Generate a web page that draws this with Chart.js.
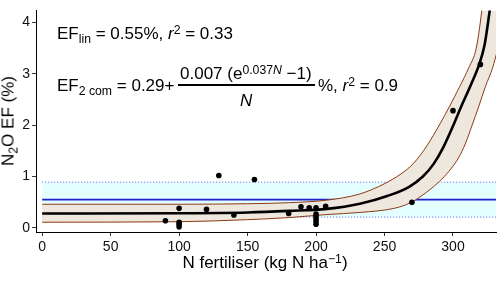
<!DOCTYPE html>
<html><head><meta charset="utf-8">
<script src="https://cdn.jsdelivr.net/npm/chart.js@4/dist/chart.umd.min.js"></script>
<style>
html,body{margin:0;padding:0;background:#fff;}
#wrap{position:relative;width:500px;height:282px;font-family:"Liberation Sans",Arial,sans-serif;color:#000;overflow:hidden;}
canvas{position:absolute;left:0;top:0;}
.t{position:absolute;white-space:nowrap;line-height:1;font-size:17px;}
.sb{position:relative;top:0.3em;font-size:0.72em;}
.sp{position:relative;top:-0.45em;font-size:0.72em;}
</style></head><body>
<div id="wrap">
<canvas id="c" width="500" height="282"></canvas>
<div class="t" style="left:57px;top:25px">EF<span class="sb">lin</span> = 0.55%, <i>r</i><span class="sp">2</span> = 0.33</div>
<div class="t" style="left:57px;top:77px">EF<span class="sb">2 com</span> = 0.29+</div>
<div class="t" style="left:180px;top:65px">0.007 (e<span class="sp">0.037<i>N</i></span> −1)</div>
<div style="position:absolute;left:178px;top:84px;width:137px;height:1.5px;background:#000"></div>
<div class="t" style="left:240px;top:92px"><i>N</i></div>
<div class="t" style="left:318px;top:77px">%, <i>r</i><span class="sp">2</span> = 0.9</div>
<div class="t" style="left:265px;top:254px;transform:translateX(-50%)">N fertiliser (kg N ha<span class="sp">−1</span>)</div>
<div class="t" style="left:8px;top:121px;transform:translate(-50%,-50%) rotate(-90deg)">N<span class="sb">2</span>O EF (%)</div>
</div>
<script>
const xTicks = [0, 50, 100, 150, 200, 250, 300];
const yTicks = [0, 1, 2, 3, 4];

const obsN  = [90, 100, 100, 100, 100, 120, 129, 140, 155, 180, 189, 195, 200, 200, 200, 200, 200, 200, 207, 270, 300, 320];
const obsEF = [0.14, 0.38, 0.11, 0.07, 0.02, 0.36, 1.02, 0.25, 0.94, 0.28, 0.41, 0.39, 0.39, 0.27, 0.22, 0.17, 0.12, 0.07, 0.42, 0.50, 2.28, 3.18];

const fitN  = [0, 100, 150, 180, 208, 232, 252, 268, 278, 286, 293, 300, 306, 313, 319, 323, 327, 331];
const fitEF = [0.28, 0.285, 0.30, 0.33, 0.37, 0.47, 0.62, 0.80, 1.00, 1.25, 1.57, 1.98, 2.36, 2.78, 3.17, 3.55, 4.26, 5.0];

const upperN  = [0, 100, 150, 180, 208, 232, 250, 262, 271, 281, 290, 297.6, 304.9, 311.6, 316.9, 321, 323, 345];
const upperEF = [0.46, 0.46, 0.47, 0.49, 0.54, 0.66, 0.86, 1.05, 1.25, 1.60, 2.00, 2.37, 2.75, 3.12, 3.49, 4.23, 4.8, 4.8];

const lowerN  = [0, 100, 150, 180, 208, 232, 257, 269, 281, 290, 297, 304, 309.2, 314, 318.9, 323.7, 329, 336, 345];
const lowerEF = [0.11, 0.12, 0.16, 0.20, 0.26, 0.30, 0.38, 0.49, 0.70, 0.90, 1.10, 1.36, 1.65, 2.00, 2.37, 2.75, 3.12, 3.8, 4.3];

const linN  = [0, 345];
const linEF = [0.55, 0.55];
const linHi = [0.89, 0.89];
const linLo = [0.21, 0.21];

const zip = (xs, ys) => xs.map((x, i) => ({x: x, y: ys[i]}));
const FONT = '"Liberation Sans", Arial, sans-serif';

new Chart(document.getElementById('c'), {
  type: 'line',
  data: {
    datasets: [
      {data: zip(obsN, obsEF), showLine: false, pointRadius: 2.8, pointBackgroundColor: '#000', pointBorderWidth: 0, order: 0},
      {data: zip(fitN, fitEF), borderColor: '#000', borderWidth: 2.6, pointRadius: 0, cubicInterpolationMode: 'monotone', fill: false, clip: 0, order: 1},
      {data: zip(lowerN, lowerEF), borderColor: '#8b3a12', borderWidth: 1, pointRadius: 0, cubicInterpolationMode: 'monotone', fill: false, clip: 0, order: 2},
      {data: zip(upperN, upperEF), borderColor: '#8b3a12', borderWidth: 1, pointRadius: 0, cubicInterpolationMode: 'monotone', fill: 2, backgroundColor: '#eee7de', clip: 0, order: 3},
      {data: zip(linN, linEF), borderColor: '#1f1fcc', borderWidth: 1.6, pointRadius: 0, fill: false, clip: 0, order: 4},
      {data: zip(linN, linLo), borderColor: '#5c5cff', borderWidth: 1, borderDash: [1, 2], pointRadius: 0, fill: false, clip: 0, order: 5},
      {data: zip(linN, linHi), borderColor: '#5c5cff', borderWidth: 1, borderDash: [1, 2], pointRadius: 0, fill: 5, backgroundColor: '#e4ffff', clip: 0, order: 6}
    ]
  },
  options: {
    responsive: false,
    devicePixelRatio: 1,
    animation: false,
    layout: {padding: 0},
    plugins: {legend: {display: false}, tooltip: {enabled: false}},
    scales: {
      x: {
        type: 'linear', min: -4.5, max: 331.4,
        afterBuildTicks: s => { s.ticks = xTicks.map(v => ({value: v})); },
        afterFit: s => { s.height = 50; },
        grid: {drawOnChartArea: false, drawTicks: true, tickLength: 4, color: '#333'},
        border: {display: true, color: '#000', width: 1},
        ticks: {font: {family: FONT, size: 14}, color: '#111', padding: 3, maxRotation: 0, autoSkip: false}
      },
      y: {
        type: 'linear', min: -0.08, max: 4.23,
        afterBuildTicks: s => { s.ticks = yTicks.map(v => ({value: v})); },
        afterFit: s => { s.width = 36; },
        grid: {drawOnChartArea: false, drawTicks: true, tickLength: 4, color: '#333'},
        border: {display: true, color: '#000', width: 1},
        ticks: {font: {family: FONT, size: 14}, color: '#111', padding: 2}
      }
    }
  }
});
</script>
</body></html>
